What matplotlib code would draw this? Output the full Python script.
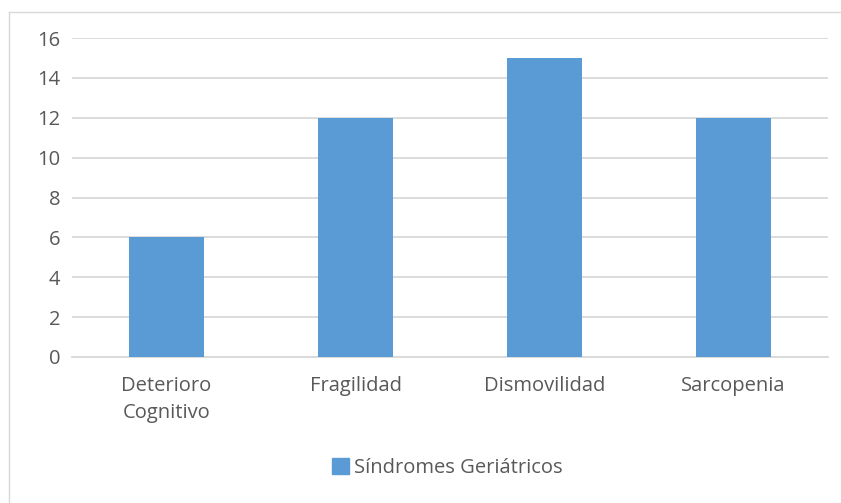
import matplotlib
matplotlib.use("Agg")
import matplotlib.pyplot as plt
from matplotlib.patches import Patch
from matplotlib.lines import Line2D

categories = ["Deterioro\nCognitivo", "Fragilidad", "Dismovilidad", "Sarcopenia"]
values = [6, 12, 15, 12]
series_name = "Síndromes Geriátricos"
y_ticks = [0, 2, 4, 6, 8, 10, 12, 14, 16]

bar_color = "#5B9BD5"
text_color = "#595959"
grid_color = "#D9D9D9"

plt.rcParams["font.family"] = ["Open Sans", "DejaVu Sans"]
fs = 14.5

fig = plt.figure(figsize=(8.41, 5.03), dpi=100)
fig.patch.set_facecolor("white")

# chart frame
fig.add_artist(Line2D([9/841, 9/841], [0, 1 - 12/503], color="#D9D9D9", lw=1))
fig.add_artist(Line2D([9/841, 1], [1 - 12/503, 1 - 12/503], color="#D9D9D9", lw=1))

ax = fig.add_axes([72/841, 1 - 357/503, (828 - 72)/841, (357 - 38)/503])
x = range(len(categories))
ax.bar(x, values, width=0.4, color=bar_color, zorder=3)
ax.set_xlim(-0.5, len(categories) - 0.5)
ax.set_ylim(0, 16)
ax.set_yticks(y_ticks)
ax.set_xticks(list(x))
ax.set_xticklabels(categories, linespacing=1.45)
ax.yaxis.grid(True, color=grid_color, lw=1.3, zorder=0)
ax.set_axisbelow(True)
for s in ax.spines.values():
    s.set_visible(False)
ax.spines["bottom"].set_visible(True)
ax.spines["bottom"].set_color(grid_color)
ax.spines["bottom"].set_linewidth(1.3)
ax.tick_params(axis="both", length=0, labelsize=fs, colors=text_color)
ax.tick_params(axis="y", pad=8.5)
ax.tick_params(axis="x", pad=14)

fig.legend(handles=[Patch(color=bar_color, label=series_name)],
           loc="center", bbox_to_anchor=(447/841, 1 - 468/503),
           frameon=False, fontsize=fs, labelcolor=text_color,
           handlelength=0.85, handleheight=0.85, handletextpad=0.25)

fig.savefig("out.png", dpi=100)
